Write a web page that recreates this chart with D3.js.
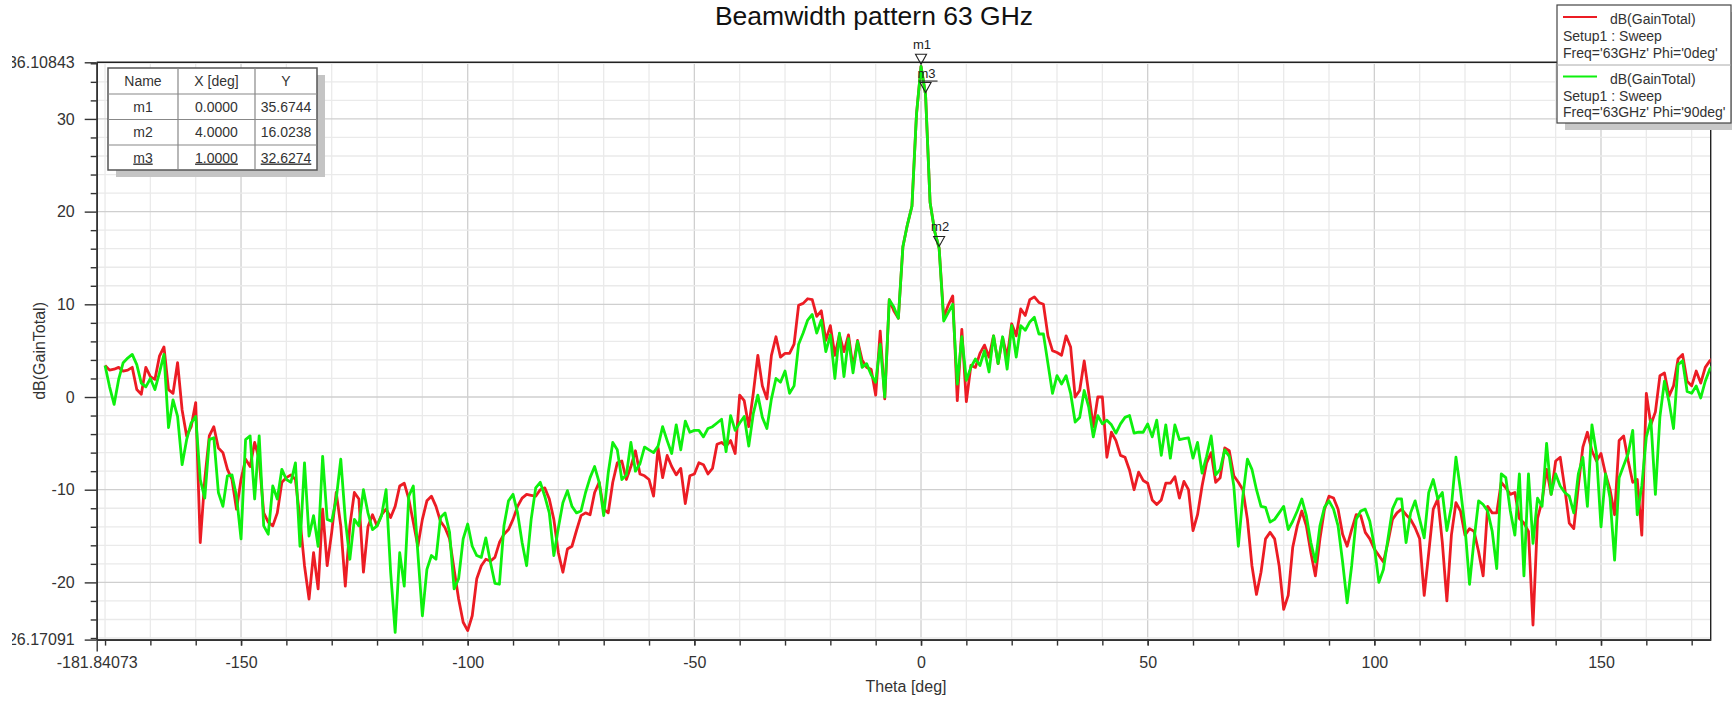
<!DOCTYPE html>
<html><head><meta charset="utf-8">
<script src="https://cdn.jsdelivr.net/npm/d3@7"></script>
<style>
html,body{margin:0;padding:0;background:#fff;}
svg{display:block;font-family:"Liberation Sans",Arial,Helvetica,sans-serif;}
</style></head><body>
<svg id="chart" width="1732" height="701"></svg>
<script>
// ---------------- data ----------------
const theta = [
-180,-179,-178,-177,-176,-175,-174,-173,-172,-171,
-170,-169,-168,-167,-166,-165,-164,-163,-162,-161,
-160,-159,-158,-157,-156,-155,-154,-153,-152,-151,
-150,-149,-148,-147,-146,-145,-144,-143,-142,-141,
-140,-139,-138,-137,-136,-135,-134,-133,-132,-131,
-130,-129,-128,-127,-126,-125,-124,-123,-122,-121,
-120,-119,-118,-117,-116,-115,-114,-113,-112,-111,
-110,-109,-108,-107,-106,-105,-104,-103,-102,-101,
-100,-99,-98,-97,-96,-95,-94,-93,-92,-91,
-90,-89,-88,-87,-86,-85,-84,-83,-82,-81,
-80,-79,-78,-77,-76,-75,-74,-73,-72,-71,
-70,-69,-68,-67,-66,-65,-64,-63,-62,-61,
-60,-59,-58,-57,-56,-55,-54,-53,-52,-51,
-50,-49,-48,-47,-46,-45,-44,-43,-42,-41,
-40,-39,-38,-37,-36,-35,-34,-33,-32,-31,
-30,-29,-28,-27,-26,-25,-24,-23,-22,-21,
-20,-19,-18,-17,-16,-15,-14,-13,-12,-11,
-10,-9,-8,-7,-6,-5,-4,-3,-2,-1,
0,1,2,3,4,5,6,7,8,9,
10,11,12,13,14,15,16,17,18,19,
20,21,22,23,24,25,26,27,28,29,
30,31,32,33,34,35,36,37,38,39,
40,41,42,43,44,45,46,47,48,49,
50,51,52,53,54,55,56,57,58,59,
60,61,62,63,64,65,66,67,68,69,
70,71,72,73,74,75,76,77,78,79,
80,81,82,83,84,85,86,87,88,89,
90,91,92,93,94,95,96,97,98,99,
100,101,102,103,104,105,106,107,108,109,
110,111,112,113,114,115,116,117,118,119,
120,121,122,123,124,125,126,127,128,129,
130,131,132,133,134,135,136,137,138,139,
140,141,142,143,144,145,146,147,148,149,
150,151,152,153,154,155,156,157,158,159,
160,161,162,163,164,165,166,167,168,169,
170,171,172,173,174,175];

// dB(GainTotal), Phi = 0deg (red)
const gainPhi0 = [
3.4,2.9,3.0,3.2,2.8,2.9,3.2,0.8,0.3,3.2,
2.2,1.9,4.4,5.4,0.8,0.4,3.7,-1.4,-4.2,-3.2,
-0.6,-15.7,-8.9,-4.2,-3.2,-5.5,-6.0,-7.8,-8.9,-12.1,
-8.9,-6.7,-7.5,-4.9,-6.7,-12.5,-13.5,-13.9,-12.5,-9.2,
-8.7,-8.4,-8.9,-13.2,-18.2,-21.8,-16.8,-20.7,-12.1,-18.2,
-14.6,-10.3,-13.9,-20.4,-13.9,-10.3,-11.0,-18.9,-14.0,-12.7,
-13.9,-12.7,-12.1,-13.0,-11.8,-9.6,-9.3,-11.0,-13.5,-16.1,
-13.2,-11.2,-10.7,-11.8,-13.4,-14.1,-15.3,-18.6,-21.8,-24.3,
-25.2,-23.6,-19.6,-18.2,-17.5,-17.7,-17.3,-15.7,-14.8,-14.3,
-13.2,-11.8,-10.9,-10.5,-10.6,-10.7,-10.0,-9.8,-11.0,-13.2,
-16.8,-18.9,-16.4,-16.1,-14.4,-12.8,-12.5,-12.7,-10.3,-9.2,
-12.1,-12.5,-9.2,-7.1,-6.9,-8.9,-7.5,-5.8,-8.3,-8.5,
-8.9,-10.7,-5.5,-8.7,-6.3,-7.5,-8.4,-7.7,-11.5,-8.5,
-8.3,-7.1,-7.3,-8.3,-7.7,-5.1,-4.9,-5.3,-4.7,-6.1,
0.2,-0.4,-3.2,0.4,4.5,1.2,-0.2,4.5,6.5,4.3,
4.7,4.7,5.7,9.9,10.1,10.6,10.5,8.7,9.3,6.1,
7.7,4.5,6.7,4.9,6.7,3.2,6.1,4.0,3.2,3.0,
0.2,7.1,-0.2,10.5,9.3,8.5,16.2,18.6,20.6,30.5,
35.6744,32.6274,21.0,17.9,16.0238,8.6,9.9,10.9,-0.4,7.3,
-0.5,3.4,3.2,4.7,5.6,4.3,6.6,3.6,6.4,4.3,
7.9,6.6,9.5,8.8,10.5,10.8,10.2,10.0,6.6,5.0,
4.8,4.5,6.6,5.4,0.0,0.7,3.9,0.4,-3.2,0.0,
0.0,-6.5,-3.8,-4.7,-6.3,-6.5,-7.9,-10.0,-8.1,-9.0,
-9.3,-11.1,-11.6,-11.1,-9.3,-9.3,-8.6,-10.9,-9.1,-10.0,
-14.4,-12.7,-9.6,-7.1,-6.0,-9.2,-8.7,-5.5,-5.8,-8.5,
-9.2,-10.0,-13.2,-18.2,-21.3,-18.9,-15.3,-14.6,-15.3,-18.2,
-22.9,-21.4,-16.2,-13.9,-12.3,-13.9,-16.8,-19.3,-15.3,-12.1,
-10.7,-10.9,-12.1,-14.8,-16.1,-14.3,-12.7,-12.8,-14.6,-15.3,
-16.4,-17.1,-17.8,-15.7,-13.2,-12.5,-12.1,-12.7,-13.2,-14.1,
-15.3,-21.4,-16.8,-12.1,-11.0,-15.7,-22.0,-14.9,-11.4,-12.3,
-14.9,-14.2,-14.5,-16.7,-19.3,-11.8,-12.5,-12.5,-9.2,-9.8,
-10.5,-10.3,-13.1,-13.6,-14.5,-24.6,-13.1,-11.2,-7.8,-10.5,
-6.9,-6.5,-9.8,-13.6,-14.2,-9.6,-5.4,-3.8,-5.8,-6.9,
-6.1,-8.3,-10.0,-12.7,-4.7,-4.2,-6.9,-9.2,-8.9,-14.9,
0.4,-3.0,-1.6,2.3,2.6,0.1,1.2,4.1,4.6,1.7,
1.2,2.8,1.5,3.2,3.9,4.3];

// dB(GainTotal), Phi = 90deg (green)
const gainPhi90 = [
3.4,1.1,-0.8,1.9,3.7,4.2,4.6,3.5,1.5,1.1,
2.0,0.8,2.6,4.6,-3.3,-0.3,-2.1,-7.3,-4.6,-2.8,
-2.1,-8.9,-10.9,-4.6,-4.4,-10.3,-11.8,-8.5,-8.4,-10.7,
-15.3,-4.6,-4.2,-11.0,-4.2,-13.9,-14.8,-9.6,-11.0,-7.8,
-8.9,-9.2,-7.1,-16.1,-7.1,-15.0,-12.8,-16.1,-6.4,-13.2,
-13.4,-11.0,-6.7,-13.2,-17.5,-13.2,-13.9,-10.0,-12.5,-14.3,
-13.9,-12.8,-10.0,-18.9,-25.4,-16.8,-20.4,-10.7,-9.6,-16.8,
-23.6,-18.6,-17.1,-17.5,-13.0,-12.5,-14.6,-20.7,-19.6,-15.3,
-13.7,-16.1,-17.1,-17.3,-15.2,-17.8,-20.1,-20.2,-13.9,-11.2,
-10.5,-12.5,-15.7,-18.2,-13.2,-9.8,-9.2,-10.7,-12.5,-17.1,
-14.1,-11.4,-10.1,-11.8,-12.5,-12.3,-10.3,-8.7,-7.5,-9.2,
-12.8,-8.2,-4.9,-5.7,-8.9,-8.4,-4.9,-8.0,-7.2,-5.4,
-5.7,-6.0,-5.3,-3.2,-4.7,-6.1,-3.0,-5.7,-2.6,-3.8,
-3.6,-3.6,-4.3,-3.4,-3.2,-2.8,-2.4,-5.9,-2.0,-3.6,
-2.8,-2.1,-5.3,-1.8,0.2,-2.2,-3.4,-0.2,2.0,1.6,
2.8,0.4,1.2,5.7,6.9,8.3,8.9,6.9,8.3,4.9,
6.7,2.0,6.9,2.2,6.3,2.6,6.0,3.2,3.6,2.4,
1.6,5.7,0.0,10.5,9.7,8.5,16.2,18.6,20.6,30.5,
35.6744,32.6274,21.0,17.9,16.0238,8.2,9.1,10.0,1.4,6.5,
1.8,3.2,4.1,3.4,5.0,2.7,6.6,3.6,6.5,3.0,
7.7,4.3,7.7,7.2,8.1,8.6,6.8,6.8,3.6,0.4,
2.3,1.4,2.3,0.4,-2.7,-2.2,0.7,-1.1,-4.3,-2.0,
-2.9,-2.5,-3.0,-3.9,-2.9,-2.2,-2.0,-3.9,-3.8,-3.8,
-2.9,-4.3,-2.5,-6.3,-3.0,-6.6,-3.0,-4.6,-4.5,-4.4,
-6.6,-4.9,-8.2,-6.4,-4.2,-8.4,-7.8,-5.7,-6.4,-9.6,
-16.1,-10.7,-6.7,-7.8,-10.0,-11.8,-11.9,-13.5,-13.2,-12.5,
-11.8,-14.3,-13.4,-12.3,-11.0,-12.8,-15.7,-17.8,-13.9,-11.9,
-11.2,-12.1,-13.9,-17.8,-22.2,-18.2,-13.2,-12.3,-12.1,-13.4,
-16.1,-20.0,-18.6,-15.3,-12.1,-11.0,-11.0,-15.7,-12.5,-11.2,
-13.2,-15.2,-10.3,-8.9,-11.0,-10.3,-14.4,-11.8,-6.5,-10.0,
-14.0,-20.2,-15.4,-11.2,-11.6,-12.3,-14.5,-18.5,-8.3,-8.7,
-12.3,-14.9,-8.3,-19.3,-8.3,-15.8,-10.9,-11.8,-5.0,-10.5,
-8.3,-9.6,-10.3,-10.7,-12.5,-8.3,-6.5,-11.8,-3.0,-6.1,
-14.0,-8.3,-10.9,-17.6,-8.7,-7.4,-6.1,-3.6,-12.7,-9.6,
-4.3,-2.5,-10.5,-2.1,1.7,-0.5,-3.4,3.5,3.9,0.6,
0.4,1.2,-0.1,1.7,3.0,3.6];

const xDomain = [-181.84073, 174.2];
const yDomain = [-26.17091, 36.10843];
const xTickValues = [-181.84073, -150, -100, -50, 0, 50, 100, 150];
const xTickLabels = ["-181.84073", "-150", "-100", "-50", "0", "50", "100", "150"];
const yTickValues = [-26.17091, -20, -10, 0, 10, 20, 30, 36.10843];
const yTickLabels = ["-26.17091", "-20", "-10", "0", "10", "20", "30", "36.10843"];

const markerNames = ["m1", "m2", "m3"];
const markerX = [0, 4, 1];
const markerY = [35.6744, 16.0238, 32.6274];
const markerXText = ["0.0000", "4.0000", "1.0000"];
const markerYText = ["35.6744", "16.0238", "32.6274"];

const seriesLabel = ["dB(GainTotal)", "dB(GainTotal)"];
const seriesSetup = ["Setup1 : Sweep", "Setup1 : Sweep"];
const seriesFreq = ["Freq='63GHz' Phi='0deg'", "Freq='63GHz' Phi='90deg'"];
const seriesColor = ["#ec1c24", "#0ef00e"];

const titleText = "Beamwidth pattern 63 GHz";
const xTitle = "Theta [deg]";
const yTitle = "dB(GainTotal)";

// ---------------- layout ----------------
const svg = d3.select("#chart");
const L = 96.7, R = 1710.7, T = 62.3, B = 639.6;
const x = d3.scaleLinear().domain(xDomain).range([L, R]);
const y = d3.scaleLinear().domain(yDomain).range([B, T]);
const TXT = "#333";

const defs = svg.append("defs");
defs.append("clipPath").attr("id", "plotClip").append("rect")
  .attr("x", L).attr("y", T - 1).attr("width", R - L).attr("height", B - T + 2);
// label clip in the axis group's local coordinates (group is translated by L)
defs.append("clipPath").attr("id", "ylabClip").append("rect")
  .attr("x", 12 - L).attr("y", 0).attr("width", 200).attr("height", 701);

// grid
const gGrid = svg.append("g");
const xGrid = d3.range(-180, 175, 10);
const yGrid = d3.range(-26, 37, 2);
gGrid.selectAll("line.xg").data(xGrid).join("line")
  .attr("x1", d => x(d)).attr("x2", d => x(d)).attr("y1", T).attr("y2", B)
  .attr("stroke", d => d % 50 === 0 ? "#cfcfcf" : "#eaeaea").attr("stroke-width", 1.3);
gGrid.selectAll("line.yg").data(yGrid).join("line")
  .attr("y1", d => y(d)).attr("y2", d => y(d)).attr("x1", L).attr("x2", R)
  .attr("stroke", d => d % 10 === 0 ? "#cfcfcf" : "#eaeaea").attr("stroke-width", 1.3);

// border top/right
svg.append("line").attr("x1", L).attr("x2", R).attr("y1", T).attr("y2", T).attr("stroke", "#222").attr("stroke-width", 1.4);
svg.append("line").attr("x1", R).attr("x2", R).attr("y1", T).attr("y2", B).attr("stroke", "#222").attr("stroke-width", 1.4);

// series
const line = d3.line().x((d, i) => x(theta[i])).y(d => y(d));
const gLines = svg.append("g").attr("clip-path", "url(#plotClip)");
[gainPhi0, gainPhi90].forEach((s, k) => {
  gLines.append("path").datum(s).attr("d", line).attr("fill", "none")
    .attr("stroke", seriesColor[k]).attr("stroke-width", 2.8)
    .attr("stroke-linejoin", "round");
});

// axes
function styleAxis(g) {
  g.select(".domain").attr("stroke", "#333").attr("stroke-width", 1.6);
  g.selectAll(".tick line").attr("stroke", "#333").attr("stroke-width", 1.4);
  g.selectAll(".tick text").attr("fill", TXT).attr("font-size", 16)
    .attr("font-family", "Liberation Sans, Arial, sans-serif");
}
const gYMinor = svg.append("g").attr("transform", `translate(${L},0)`)
  .call(d3.axisLeft(y).tickValues(yGrid.filter(d => d % 10 !== 0)).tickSize(6).tickSizeOuter(0).tickFormat(""));
styleAxis(gYMinor);
const gY = svg.append("g").attr("transform", `translate(${L},0)`).attr("clip-path", "url(#ylabClip)")
  .call(d3.axisLeft(y).tickValues(yTickValues).tickSize(12).tickPadding(10).tickSizeOuter(0)
    .tickFormat((d, i) => yTickLabels[i]));
styleAxis(gY);
const gXMinor = svg.append("g").attr("transform", `translate(0,${B})`)
  .call(d3.axisBottom(x).tickValues(xGrid).tickSize(6).tickSizeOuter(0).tickFormat(""));
styleAxis(gXMinor);
const gX = svg.append("g").attr("transform", `translate(0,${B})`)
  .call(d3.axisBottom(x).tickValues(xTickValues).tickSize(6).tickPadding(11).tickSizeOuter(0)
    .tickFormat((d, i) => xTickLabels[i]));
styleAxis(gX);
gX.selectAll(".tick").filter(d => d === xDomain[0]).select("line").attr("y2", 12);

// axis titles
svg.append("text").attr("x", x(0) - 15).attr("y", 692).attr("text-anchor", "middle")
  .attr("font-size", 16).attr("fill", TXT).text(xTitle);
svg.append("text").attr("transform", `translate(45,${(T + B) / 2}) rotate(-90)`)
  .attr("text-anchor", "middle").attr("font-size", 16).attr("fill", TXT).text(yTitle);

// title
svg.append("text").attr("x", 874).attr("y", 25).attr("text-anchor", "middle")
  .attr("font-size", 26.5).attr("fill", "#111").text(titleText);

// markers on curve
const gM = svg.append("g");
markerNames.forEach((n, i) => {
  const px = x(markerX[i]), py = y(markerY[i]) - 2;
  gM.append("path").attr("d", `M${px},${py} L${px - 5.5},${py - 10} L${px + 5.5},${py - 10} Z`)
    .attr("fill", "none").attr("stroke", "#222").attr("stroke-width", 1.1);
  gM.append("text").attr("x", px + 1).attr("y", py - 15).attr("text-anchor", "middle")
    .attr("font-size", 13).attr("fill", "#222").text(n);
  if (n === "m3") {
    gM.append("line").attr("x1", px - 7).attr("x2", px + 12).attr("y1", py - 11.5).attr("y2", py - 11.5)
      .attr("stroke", "#222").attr("stroke-width", 1.1);
  }
});

// marker table
const tb = {x: 108, y: 68, w: 209, h: 102};
const gT = svg.append("g");
gT.append("rect").attr("x", tb.x + 8).attr("y", tb.y + 7).attr("width", tb.w).attr("height", tb.h).attr("fill", "#c4c4c4");
gT.append("rect").attr("x", tb.x).attr("y", tb.y).attr("width", tb.w).attr("height", tb.h)
  .attr("fill", "#fff").attr("stroke", "#555").attr("stroke-width", 1.5);
const colX = [tb.x, 178, 255, tb.x + tb.w];
const rowY = [tb.y, 94, 119.5, 145, tb.y + tb.h];
[178, 255].forEach(cx => gT.append("line").attr("x1", cx).attr("x2", cx).attr("y1", tb.y).attr("y2", tb.y + tb.h).attr("stroke", "#888").attr("stroke-width", 1.2));
[94, 119.5, 145].forEach(ry => gT.append("line").attr("x1", tb.x).attr("x2", tb.x + tb.w).attr("y1", ry).attr("y2", ry).attr("stroke", "#888").attr("stroke-width", 1.2));
const rows = [["Name", "X [deg]", "Y"]].concat(markerNames.map((n, i) => [n, markerXText[i], markerYText[i]]));
rows.forEach((r, ri) => {
  r.forEach((c, ci) => {
    const cx = (colX[ci] + colX[ci + 1]) / 2, cy = (rowY[ri] + rowY[ri + 1]) / 2;
    const t = gT.append("text").attr("x", cx).attr("y", cy + 5).attr("text-anchor", "middle")
      .attr("font-size", 14).attr("fill", TXT).text(c);
    if (ri === 3) t.attr("text-decoration", "underline");
  });
});

// legend
const lg = {x: 1557, y: 5, w: 174, h: 118};
const gL = svg.append("g");
gL.append("rect").attr("x", lg.x + 8).attr("y", lg.y + 7).attr("width", lg.w).attr("height", lg.h).attr("fill", "#c8c8c8");
gL.append("rect").attr("x", lg.x).attr("y", lg.y).attr("width", lg.w).attr("height", lg.h)
  .attr("fill", "#fff").attr("stroke", "#444").attr("stroke-width", 1.2);
gL.append("line").attr("x1", lg.x).attr("x2", lg.x + lg.w).attr("y1", 65).attr("y2", 65).attr("stroke", "#aaa");
seriesLabel.forEach((s, k) => {
  const oy = k * 59.5;
  gL.append("line").attr("x1", 1563).attr("x2", 1597).attr("y1", 17 + oy).attr("y2", 17 + oy)
    .attr("stroke", seriesColor[k]).attr("stroke-width", 2.2);
  gL.append("text").attr("x", 1610).attr("y", 24 + oy).attr("font-size", 14).attr("fill", TXT).text(s);
  gL.append("text").attr("x", 1563).attr("y", 41 + oy).attr("font-size", 14).attr("fill", TXT).text(seriesSetup[k]);
  gL.append("text").attr("x", 1563).attr("y", 57.5 + oy).attr("font-size", 14).attr("fill", TXT).text(seriesFreq[k]);
});
</script>
</body></html>
